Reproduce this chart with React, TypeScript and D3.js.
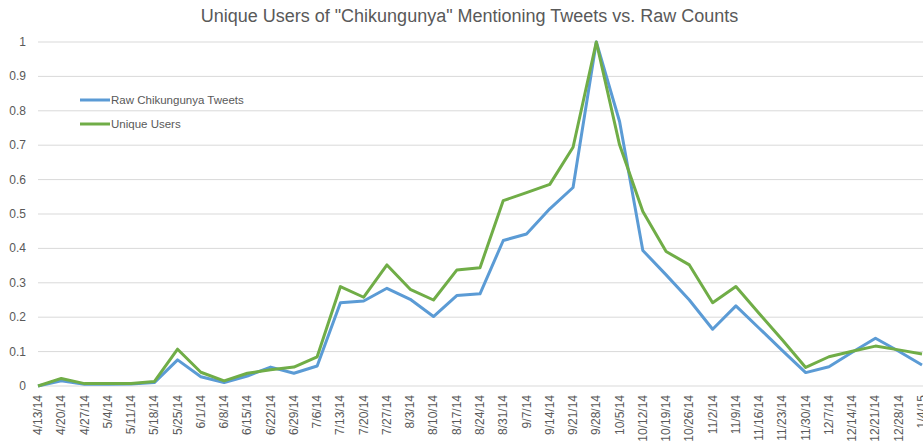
import React from "react";
import * as d3 from "d3";

const dates = [
  "4/13/14","4/20/14","4/27/14","5/4/14","5/11/14","5/18/14","5/25/14","6/1/14","6/8/14","6/15/14",
  "6/22/14","6/29/14","7/6/14","7/13/14","7/20/14","7/27/14","8/3/14","8/10/14","8/17/14","8/24/14",
  "8/31/14","9/7/14","9/14/14","9/21/14","9/28/14","10/5/14","10/12/14","10/19/14","10/26/14","11/2/14",
  "11/9/14","11/16/14","11/23/14","11/30/14","12/7/14","12/14/14","12/21/14","12/28/14","1/4/15",
];

const rawTweets = [
  0, 0.015, 0.005, 0.005, 0.006, 0.01, 0.076, 0.027, 0.01, 0.029,
  0.055, 0.037, 0.058, 0.242, 0.247, 0.284, 0.252, 0.202, 0.263, 0.268,
  0.423, 0.442, 0.515, 0.577, 1.0, 0.769, 0.394, 0.323, 0.25, 0.165,
  0.233, 0.168, 0.103, 0.039, 0.056, 0.098, 0.139, 0.101, 0.061,
];

const uniqueUsers = [
  0, 0.022, 0.007, 0.007, 0.007, 0.013, 0.107, 0.04, 0.015, 0.037,
  0.047, 0.055, 0.085, 0.289, 0.258, 0.352, 0.281, 0.25, 0.337, 0.344,
  0.539, 0.562, 0.586, 0.694, 1.0, 0.701, 0.507, 0.391, 0.352, 0.242,
  0.289, 0.211, 0.134, 0.054, 0.085, 0.101, 0.116, 0.105, 0.093,
];

const yTicks = [0, 0.1, 0.2, 0.3, 0.4, 0.5, 0.6, 0.7, 0.8, 0.9, 1];

const seriesNames = ["Raw Chikungunya Tweets", "Unique Users"];
const seriesColors = ["#5B9BD5", "#70AD47"];

const W = 923;
const H = 446;
const FONT = "'Liberation Sans', Arial, sans-serif";

export default function App() {
  const x = d3.scalePoint<string>().domain(dates).range([38, 922]);
  const y = d3.scaleLinear().domain([0, 1]).range([386, 42]);
  const line = d3
    .line<number>()
    .x((_, i) => x(dates[i]) as number)
    .y((d) => y(d));

  const series = [rawTweets, uniqueUsers];

  return (
    <svg
      width={W}
      height={H}
      style={{ position: "absolute", left: 0, top: 0, background: "#fff" }}
      fontFamily={FONT}
    >
      <rect width={W} height={H} fill="#fff" />
      <text x={W / 2 + 8} y={22} textAnchor="middle" fontSize={18} fill="#595959">
        Unique Users of "Chikungunya" Mentioning Tweets vs. Raw Counts
      </text>
      {yTicks.map((t) => (
        <g key={t}>
          <line x1={38} x2={W} y1={y(t)} y2={y(t)} stroke="#D9D9D9" strokeWidth={1} />
          <text x={26} y={y(t) + 4} textAnchor="end" fontSize={12} fill="#595959">
            {t}
          </text>
        </g>
      ))}
      {dates.map((d) => (
        <text
          key={d}
          transform={`translate(${(x(d) as number) + 4},395) rotate(-90)`}
          textAnchor="end"
          fontSize={12}
          fill="#595959"
        >
          {d}
        </text>
      ))}
      {series.map((s, i) => (
        <path
          key={i}
          d={line(s) || ""}
          fill="none"
          stroke={seriesColors[i]}
          strokeWidth={3}
          strokeLinejoin="round"
        />
      ))}
      {seriesNames.map((n, i) => (
        <g key={n}>
          <line x1={80} x2={110} y1={100 + i * 24} y2={100 + i * 24} stroke={seriesColors[i]} strokeWidth={3} />
          <text x={111} y={104 + i * 24} fontSize={11.5} fill="#595959">
            {n}
          </text>
        </g>
      ))}
    </svg>
  );
}
